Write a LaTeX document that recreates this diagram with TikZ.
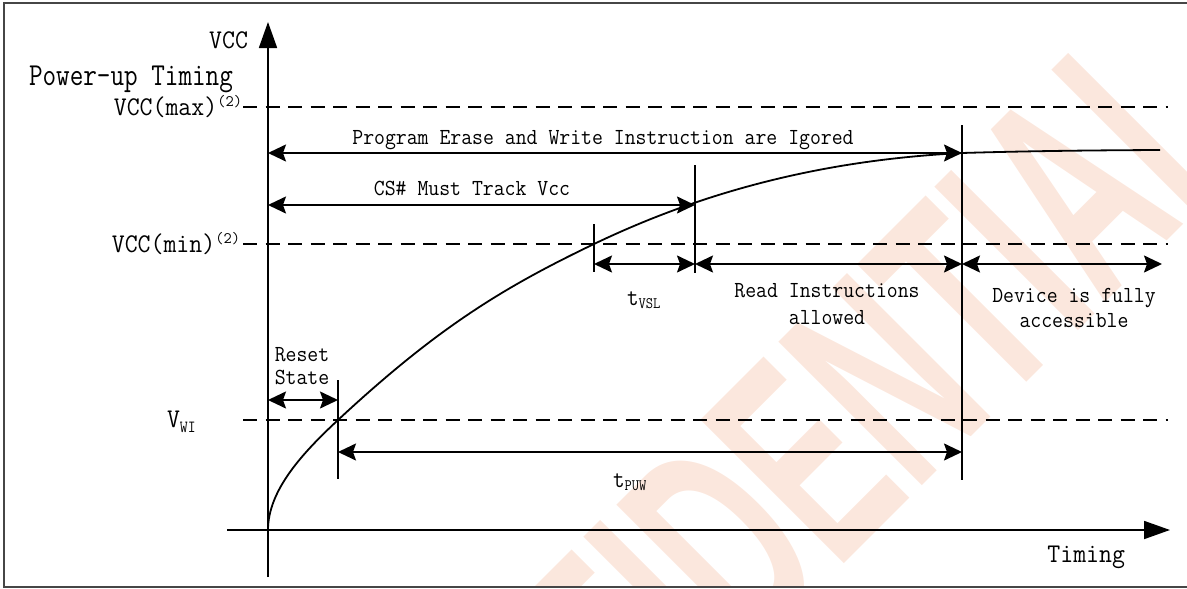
\documentclass[tikz,border=0pt]{standalone}
\usepackage{fontspec}
\usetikzlibrary{arrows.meta}
\newfontfamily\wmfont{Liberation Sans}
\definecolor{wmc}{RGB}{251,231,221}
\definecolor{bordc}{RGB}{70,70,70}
\newcommand\sqz[2]{\scalebox{#1}[1]{#2}}
\newcommand\fbig{\ttfamily\fontsize{27}{30}\selectfont}
\newcommand\fsmall{\ttfamily\fontsize{23}{26}\selectfont}
\newcommand\fsup{\ttfamily\fontsize{16}{16}\selectfont}
\tikzset{
  lbl/.style={inner sep=0pt, outer sep=0pt},
  ln/.style={line width=1.8pt, line join=round},
  dimarr/.style={ln, {Stealth[length=18pt,width=17pt,inset=3pt]}-{Stealth[length=18pt,width=17pt,inset=3pt]}},
  axarr/.style={ln, -{Triangle[length=26pt,width=18pt]}},
  dashline/.style={line width=2pt, dash pattern=on 14pt off 8.5pt},
  bord/.style={line width=2pt, draw=bordc}
}
\begin{document}
\begin{tikzpicture}[x=1pt,y=-1pt]
\useasboundingbox (0,0) rectangle (1187,589);
% watermark
\begin{scope}
\clip (4,3) rectangle (1187,587);
\node[lbl, rotate=45, text=wmc, font=\wmfont\bfseries\fontsize{295}{295}\selectfont] (wm) at (752,513) {\sqz{0.56}{CONFIDENTIAL}};
\end{scope}
% frame
\draw[bord] (1187,3) -| (4,587) -- (1187,587);
% key points
\coordinate (O) at (268,530);
\coordinate (ytop) at (268,22);
\coordinate (ybot) at (268,577);
\coordinate (xl) at (227,530);
\coordinate (xr) at (1170,530);
\coordinate (dmaxL) at (243,107);
\coordinate (dmaxR) at (1168,107);
\coordinate (dminL) at (243,244);
\coordinate (dminR) at (1168,244);
\coordinate (dwiL) at (243,420);
\coordinate (dwiR) at (1168,420);
\coordinate (m1t) at (338,380);
\coordinate (m1b) at (338,479);
\coordinate (m2t) at (594,224);
\coordinate (m2b) at (594,272);
\coordinate (m3t) at (695,165);
\coordinate (m3b) at (695,273);
\coordinate (m4t) at (962,125);
\coordinate (m4b) at (962,480);
\coordinate (pgL) at (268,153);
\coordinate (pgR) at (962,153);
\coordinate (csL) at (268,205);
\coordinate (csR) at (695,205);
\coordinate (r1) at (594,264);
\coordinate (r2) at (695,264);
\coordinate (r3) at (962,264);
\coordinate (r4) at (1162,264);
\coordinate (rsL) at (268,400);
\coordinate (rsR) at (338,400);
\coordinate (puL) at (338,452);
\coordinate (puR) at (962,452);
\coordinate (cvA) at (338,420);
\coordinate (cvB) at (594,244);
\coordinate (cvC) at (962,153);
\coordinate (cvD) at (1160,150);
% dashed levels
\draw[dashline] (dmaxL) -- (dmaxR);
\draw[dashline] (dminL) -- (dminR);
\draw[dashline] (dwiL) -- (dwiR);
% axes
\draw[axarr] (ybot) -- (ytop);
\draw[axarr] (xl) -- (xr);
% curve
\draw[ln] (O) .. controls (268,490) and (303,452.6) .. (cvA)
  .. controls (438,327) and (504,287.2) .. (cvB)
  .. controls (717,185) and (839,159.2) .. (cvC)
  .. controls (1028,151) and (1094,150.3) .. (cvD);
% markers
\draw[ln] (m1t) -- (m1b);
\draw[ln] (m2t) -- (m2b);
\draw[ln] (m3t) -- (m3b);
\draw[ln] (m4t) -- (m4b);
% dimension arrows
\draw[dimarr] (pgL) -- (pgR);
\draw[dimarr] (csL) -- (csR);
\draw[dimarr] (r1) -- (r2);
\draw[dimarr] (r2) -- (r3);
\draw[dimarr] (r3) -- (r4);
\draw[dimarr] (rsL) -- (rsR);
\draw[dimarr] (puL) -- (puR);
% labels
\node[lbl, anchor=base east] (vcc) at (248,48) {\fbig\sqz{0.93}{VCC}};
\node[lbl, anchor=base west] (put) at (29,85) {\ttfamily\fontsize{32}{34}\selectfont\sqz{0.825}{Power-up Timing}};
\node[lbl, anchor=base east] (vmax) at (242,115) {\fbig\sqz{0.93}{VCC(max)}\raisebox{9pt}{\fsup(2)}};
\node[lbl, anchor=base east] (vmin) at (240,252) {\fbig\sqz{0.93}{VCC(min)}\raisebox{9pt}{\fsup(2)}};
\node[lbl, anchor=base west] (vwi) at (167,427) {\fbig\sqz{0.93}{V}\raisebox{-5pt}{\ttfamily\fontsize{17}{17}\selectfont\sqz{0.9}{WI}}};
\node[lbl, anchor=base] (pgt) at (603,144) {\fsmall\sqz{0.92}{Program Erase and Write Instruction are Igored}};
\node[lbl, anchor=base] (cst) at (472,195) {\fsmall\sqz{0.92}{CS\# Must Track Vcc}};
\node[lbl, anchor=base west] (tvsl) at (627,305) {\ttfamily\fontsize{25}{25}\selectfont\sqz{0.9}{t}\raisebox{-3pt}{\ttfamily\fontsize{16}{16}\selectfont\sqz{0.88}{VSL}}};
\node[lbl, anchor=base west] (tpuw) at (613,487) {\ttfamily\fontsize{25}{25}\selectfont\sqz{0.9}{t}\raisebox{-3pt}{\ttfamily\fontsize{16}{16}\selectfont\sqz{0.88}{PUW}}};
\node[lbl, align=center, font=\ttfamily\fontsize{23}{23}\selectfont] (rst) at (302,366.5) {\sqz{0.92}{Reset}\\\sqz{0.92}{State}};
\node[lbl, align=center, font=\ttfamily\fontsize{23}{27}\selectfont] (rdi) at (827,304) {\sqz{0.92}{Read Instructions}\\\sqz{0.92}{allowed}};
\node[lbl, align=center, font=\ttfamily\fontsize{23}{25}\selectfont] (dev) at (1074,308) {\sqz{0.92}{Device is fully}\\\sqz{0.92}{accessible}};
\node[lbl, anchor=base east] (tim) at (1125,562) {\fbig\sqz{0.93}{Timing}};
\end{tikzpicture}
\end{document}
